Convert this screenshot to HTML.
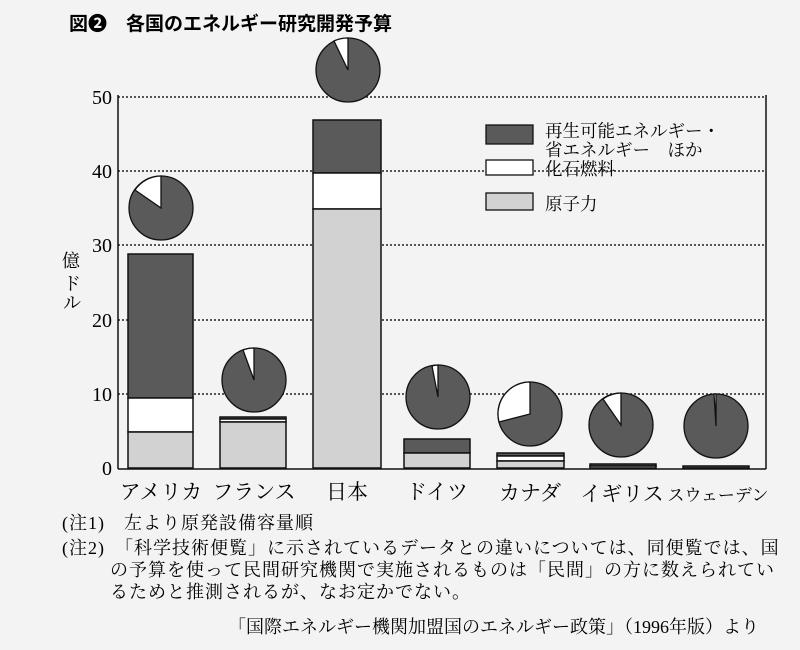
<!DOCTYPE html>
<html><head><meta charset="utf-8"><style>
body{margin:0;background:#f3f3f3;}
svg{display:block;font-family:"Liberation Serif","Noto Serif CJK SC","Noto Sans CJK JP",serif;}
</style></head><body>
<svg width="800" height="650" viewBox="0 0 800 650" xmlns="http://www.w3.org/2000/svg">
<rect width="800" height="650" fill="#f3f3f3"/>
<text x="69" y="30" font-size="19" font-weight="bold" font-family="Liberation Sans,Noto Sans CJK JP,sans-serif">図❷　各国のエネルギー研究開発予算</text>
<g stroke="#222" stroke-width="1.5" stroke-dasharray="2,2">
<line x1="118" y1="97" x2="765" y2="97"/><line x1="118" y1="171" x2="765" y2="171"/><line x1="118" y1="245" x2="765" y2="245"/><line x1="118" y1="320" x2="765" y2="320"/><line x1="118" y1="394" x2="765" y2="394"/>
</g>
<g font-size="20" text-anchor="end"><text x="112" y="104">50</text><text x="112" y="178">40</text><text x="112" y="252">30</text><text x="112" y="327">20</text><text x="112" y="401">10</text><text x="112" y="475">0</text></g>
<g font-size="18" font-family="Liberation Serif,Noto Serif CJK SC,serif">
<text x="62" y="267">億</text><text x="63" y="290">ド</text><text x="63" y="309">ル</text>
</g>
<g stroke="#111" stroke-width="1.5">
<rect x="128" y="254" width="65" height="144" fill="#5a5a5a"/><rect x="128" y="398" width="65" height="34" fill="#fff"/><rect x="128" y="432" width="65" height="36" fill="#d2d2d2"/>
<rect x="220" y="417" width="66" height="2" fill="#5a5a5a"/><rect x="220" y="419" width="66" height="3" fill="#fff"/><rect x="220" y="422" width="66" height="46" fill="#d2d2d2"/>
<rect x="313" y="120" width="68" height="53" fill="#5a5a5a"/><rect x="313" y="173" width="68" height="36" fill="#fff"/><rect x="313" y="209" width="68" height="259" fill="#d2d2d2"/>
<rect x="404" y="439" width="66" height="14" fill="#5a5a5a"/><rect x="404" y="453" width="66" height="15" fill="#d2d2d2"/>
<rect x="497" y="453" width="67" height="3" fill="#5a5a5a"/><rect x="497" y="456" width="67" height="5" fill="#fff"/><rect x="497" y="461" width="67" height="7" fill="#d2d2d2"/>
<rect x="590" y="464" width="66" height="2" fill="#5a5a5a"/><rect x="590" y="466" width="66" height="2" fill="#d2d2d2"/>
<rect x="683" y="466" width="66" height="2" fill="#5a5a5a"/>
</g>
<line x1="118" y1="95" x2="118" y2="469" stroke="#111" stroke-width="1.5"/>
<line x1="766" y1="95" x2="766" y2="469" stroke="#111" stroke-width="1.5"/>
<line x1="118" y1="469" x2="766" y2="469" stroke="#111" stroke-width="1.5"/>
<g stroke="#111" stroke-width="1.3">
<circle cx="161" cy="208" r="32" fill="#5a5a5a"/><path d="M161 208 L161 176 A32 32 0 0 0 135 190 Z" fill="#fff"/>
<circle cx="348" cy="70" r="32" fill="#5a5a5a"/><path d="M348 70 L348 38 A32 32 0 0 0 334 41 Z" fill="#fff"/>
<circle cx="254" cy="380" r="32" fill="#5a5a5a"/><path d="M254 380 L254 348 A32 32 0 0 0 243 350 Z" fill="#fff"/>
<circle cx="438" cy="397" r="32" fill="#5a5a5a"/><path d="M438 397 L438 365 A32 32 0 0 0 432 366 Z" fill="#fff"/>
<circle cx="530" cy="414" r="32" fill="#5a5a5a"/><path d="M530 414 L530 382 A32 32 0 0 0 499 422 Z" fill="#fff"/>
<circle cx="621" cy="425" r="32" fill="#5a5a5a"/><path d="M621 425 L621 393 A32 32 0 0 0 603 399 Z" fill="#fff"/>
<circle cx="716" cy="426" r="32" fill="#5a5a5a"/><path d="M716 426 L716 394 A32 32 0 0 0 714 394 Z" fill="#fff"/>
</g>
<g stroke="#111" stroke-width="1.3">
<rect x="486" y="125" width="47" height="19" fill="#5a5a5a"/><rect x="486" y="160" width="47" height="15" fill="#fff"/><rect x="486" y="193" width="47" height="17" fill="#d2d2d2"/>
</g>
<g font-size="17.5" font-family="Liberation Serif,Noto Serif CJK SC,serif">
<text x="545" y="137">再生可能エネルギー・</text><text x="545" y="156">省エネルギー　ほか</text>
<text x="545" y="175">化石燃料</text><text x="545" y="210">原子力</text>
</g>
<g font-size="21" font-family="Liberation Serif,Noto Serif CJK SC,serif" text-anchor="middle">
<text x="161" y="499">アメリカ</text><text x="254" y="499">フランス</text><text x="347" y="499">日本</text><text x="437" y="499">ドイツ</text><text x="530" y="500">カナダ</text><text x="622" y="501">イギリス</text><text x="718" y="501" font-size="17">スウェーデン</text>
</g>
<g font-size="18" font-family="Liberation Serif,Noto Serif CJK SC,serif" letter-spacing="1">
<text x="62" y="529">(注1)　左より原発設備容量順</text>
<text x="62" y="554">(注2)　「科学技術便覧」に示されているデータとの違いについては、同便覧では、国</text>
<text x="110" y="576">の予算を使って民間研究機関で実施されるものは「民間」の方に数えられてい</text>
<text x="110" y="598">るためと推測されるが、なお定かでない。</text>
<text x="228" y="633" letter-spacing="0">「国際エネルギー機関加盟国のエネルギー政策」（1996年版）より</text>
</g>
</svg>
</body></html>
